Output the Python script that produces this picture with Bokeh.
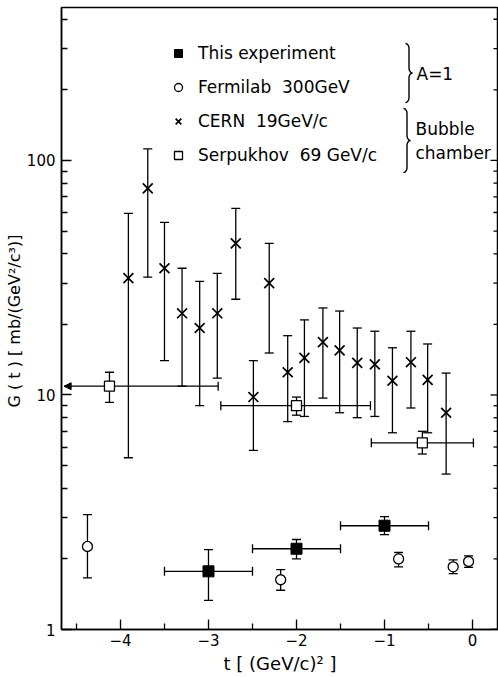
import math
from bokeh.plotting import figure
from bokeh.models import (ColumnDataSource, Whisker, TeeHead, NormalHead, FixedTicker,
                          Legend, LegendItem, Label, PrintfTickFormatter, PolyAnnotation)
from bokeh.embed import file_html
from bokeh.resources import INLINE

# ---------------- data ----------------
# This experiment (filled squares)
exp_t = [-3.0, -2.0, -1.0]
exp_g = [1.77, 2.21, 2.77]
exp_glo = [1.33, 2.00, 2.54]
exp_ghi = [2.19, 2.42, 3.03]
exp_tlo = [-3.5, -2.5, -1.5]
exp_thi = [-2.5, -1.5, -0.5]

# Fermilab 300 GeV (open circles)
fnal_t = [-4.375, -2.18, -0.84, -0.22, -0.045]
fnal_g = [2.26, 1.63, 2.00, 1.85, 1.95]
fnal_glo = [1.66, 1.47, 1.85, 1.73, 1.84]
fnal_ghi = [3.09, 1.80, 2.13, 1.98, 2.06]

# CERN 19 GeV/c (crosses)
cern_t = [-3.91, -3.69, -3.50, -3.30, -3.10, -2.90, -2.69, -2.49, -2.31, -2.10,
          -1.91, -1.70, -1.51, -1.31, -1.11, -0.91, -0.70, -0.51, -0.30]
cern_g = [31.5, 76.0, 34.7, 22.3, 19.3, 22.3, 44.3, 9.8, 30.0, 12.5,
          14.4, 16.8, 15.5, 13.7, 13.5, 11.5, 13.8, 11.6, 8.4]
cern_glo = [5.4, 31.8, 14.0, 10.9, 9.0, 11.8, 25.6, 5.8, 15.1, 7.7,
            8.1, 9.7, 8.4, 8.0, 8.1, 6.9, 8.8, 6.9, 4.6]
cern_ghi = [59.5, 112.0, 54.5, 34.7, 30.5, 33.0, 62.5, 14.0, 44.3, 17.9,
            20.9, 23.5, 22.8, 19.3, 18.7, 15.9, 18.7, 16.5, 12.4]

# Serpukhov 69 GeV/c (open squares); first bin runs off the left edge
serp_t = [-4.125, -2.0, -0.57]
serp_g = [10.9, 9.0, 6.25]
serp_glo = [9.3, 8.2, 5.6]
serp_ghi = [12.5, 9.8, 7.0]
serp_tlo = [-4.64, -2.86, -1.15]
serp_thi = [-2.89, -1.16, 0.01]
serp_open_left = [True, False, False]

x_ticks = [-4, -3, -2, -1, 0]
x_minor = [-4.5, -3.5, -2.5, -1.5, -0.5]
y_ticks = [1, 10, 100]
y_minor = [2, 3, 4, 5, 6, 7, 8, 9, 20, 30, 40, 50, 60, 70, 80, 90, 200, 300, 400]

legend_labels = ["This experiment", "Fermilab  300GeV", "CERN  19GeV/c", "Serpukhov  69 GeV/c"]

FONT = "DejaVu Sans"
X_START, X_END = -4.67, 0.295

# ---------------- figure ----------------
p = figure(width=498, height=677, x_range=(X_START, X_END), y_range=(1, 449),
           y_axis_type="log", output_backend="svg", toolbar_location=None,
           min_border_left=61, min_border_right=0, min_border_top=7, min_border_bottom=48,
           background_fill_color="white", border_fill_color="white")
p.xgrid.visible = False
p.ygrid.visible = False
p.outline_line_color = "black"
p.outline_line_width = 1.5

# axes
xa = p.xaxis[0]
xa.ticker = FixedTicker(ticks=x_ticks, minor_ticks=x_minor)
ya = p.yaxis[0]
ya.ticker = FixedTicker(ticks=y_ticks, minor_ticks=y_minor)
ya.formatter = PrintfTickFormatter(format="%d")

for ax in (xa, ya):
    ax.major_tick_in = 10
    ax.major_tick_out = 0
    ax.minor_tick_in = 6
    ax.minor_tick_out = 0
    ax.axis_line_width = 1.5
    ax.major_tick_line_width = 1.3
    ax.minor_tick_line_width = 1.3
    ax.major_label_text_font = FONT
    ax.major_label_text_font_size = "15px"
    ax.major_label_text_color = "black"
    ax.axis_label_text_font = FONT
    ax.axis_label_text_font_style = "normal"
    ax.axis_label_text_color = "black"

xa.major_label_standoff = 4
xa.axis_label = "t [ (GeV/c)² ]"
xa.axis_label_text_font_size = "18px"
xa.axis_label_standoff = 4

ya.major_label_standoff = 6
ya.axis_label = "G ( t )  [ mb/(GeV²/c³)]"
ya.axis_label_text_font_size = "16px"
ya.axis_label_standoff = 0

# inward ticks on the right-hand frame edge (mirror of the left log axis)
rt_y = y_ticks + y_minor
rt_len = [8] * len(y_ticks) + [5] * len(y_minor)
p.ray(x=[X_END] * len(rt_y), y=rt_y, length=rt_len, length_units="screen",
      angle=math.pi, line_color="black", line_width=1.3)

# ---------------- error bars ----------------
def tee():
    return TeeHead(size=9, line_color="black", line_width=1.3)

def vbars(t, lo, hi):
    src = ColumnDataSource(dict(t=t, lo=lo, hi=hi))
    p.add_layout(Whisker(source=src, base="t", lower="lo", upper="hi", dimension="height",
                         line_color="black", line_width=1.3, upper_head=tee(),
                         lower_head=tee(), level="underlay"))

def hbars(g, lo, hi, lower_head=None):
    src = ColumnDataSource(dict(g=g, lo=lo, hi=hi))
    p.add_layout(Whisker(source=src, base="g", lower="lo", upper="hi", dimension="width",
                         line_color="black", line_width=1.3, upper_head=tee(),
                         lower_head=lower_head if lower_head is not None else tee(),
                         level="underlay"))

vbars(cern_t, cern_glo, cern_ghi)
vbars(serp_t, serp_glo, serp_ghi)
idx_open = [i for i, o in enumerate(serp_open_left) if o]
idx_closed = [i for i, o in enumerate(serp_open_left) if not o]
hbars([serp_g[i] for i in idx_closed], [serp_tlo[i] for i in idx_closed],
      [serp_thi[i] for i in idx_closed])
hbars([serp_g[i] for i in idx_open], [serp_tlo[i] for i in idx_open],
      [serp_thi[i] for i in idx_open],
      lower_head=NormalHead(size=7, fill_color="black", line_color="black"))
vbars(exp_t, exp_glo, exp_ghi)
hbars(exp_g, exp_tlo, exp_thi)
vbars(fnal_t, fnal_glo, fnal_ghi)

# ---------------- markers ----------------
r_cern = p.scatter(cern_t, cern_g, marker="x", size=14, line_color="black", line_width=1.7)
r_serp = p.scatter(serp_t, serp_g, marker="square", size=10, fill_color="white",
                   line_color="black", line_width=1.3)
r_exp = p.scatter(exp_t, exp_g, marker="square", size=11, fill_color="black",
                  line_color="black")
r_fnal = p.scatter(fnal_t, fnal_g, marker="circle", size=10, fill_color="white",
                   line_color="black", line_width=1.3)

legend = Legend(items=[LegendItem(label=legend_labels[0], renderers=[r_exp]),
                       LegendItem(label=legend_labels[1], renderers=[r_fnal]),
                       LegendItem(label=legend_labels[2], renderers=[r_cern]),
                       LegendItem(label=legend_labels[3], renderers=[r_serp])],
                location=(107, 464), padding=0, margin=0, spacing=14,
                glyph_width=20, glyph_height=20, label_standoff=10,
                label_text_font=FONT, label_text_font_size="17px",
                label_text_color="black",
                border_line_color=None, background_fill_alpha=0)
p.add_layout(legend)

# ---------------- braces and group notes (screen units, from frame bottom-left) ----------------
def brace(x0, top, bottom, w=7, r=5, n=6):
    """Right-facing curly brace path; returned forwards and back so the closed polygon is a line."""
    mid = (top + bottom) / 2.0
    xm = x0 + w / 2.0
    pts = []
    for k in range(n + 1):          # top hook
        a = math.pi / 2 * k / n
        pts.append((x0 + (xm - x0) * math.sin(a), top - r * (1 - math.cos(a))))
    for k in range(n + 1):          # upper half into the tip
        a = math.pi / 2 * k / n
        pts.append((xm + (x0 + w - xm) * (1 - math.cos(a)), mid + r - r * math.sin(a)))
    for k in range(n + 1):          # out of the tip
        a = math.pi / 2 * k / n
        pts.append((x0 + w - (x0 + w - xm) * math.sin(a), mid - r * (1 - math.cos(a))))
    for k in range(n + 1):          # bottom hook
        a = math.pi / 2 * k / n
        pts.append((xm - (xm - x0) * (1 - math.cos(a)), bottom + r - r * math.sin(a)))
    xs = [q[0] for q in pts]
    ys = [q[1] for q in pts]
    xs = xs + xs[::-1]
    ys = ys + ys[::-1]
    p.add_layout(PolyAnnotation(xs=xs, ys=ys, xs_units="screen", ys_units="screen",
                                fill_alpha=0, line_color="black", line_alpha=1.0,
                                line_width=1.4))

def note(text, x, y, size="17px", font=FONT):
    p.add_layout(Label(x=x, y=y, x_units="screen", y_units="screen", text=text,
                       text_font=font, text_font_size=size, text_color="black",
                       text_baseline="middle", text_align="left"))

brace(344, 586, 527)
brace(342, 521, 457)
note("A=1", 355, 556)
note("Bubble", 354, 501)
note("chamber", 354, 477)

open("out.html", "w").write(file_html(p, INLINE))
